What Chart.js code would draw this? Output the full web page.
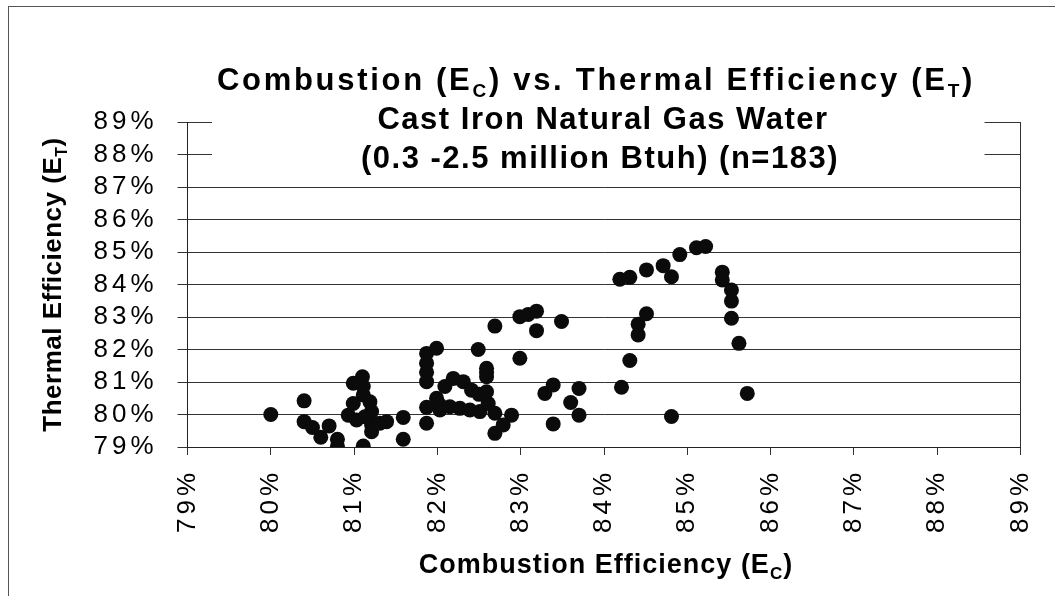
<!DOCTYPE html>
<html><head><meta charset="utf-8">
<script src="https://cdn.jsdelivr.net/npm/chart.js@4.4.1/dist/chart.umd.min.js"></script>
<style>html,body{margin:0;padding:0;background:#fff;}canvas{display:block;}</style>
</head><body>
<canvas id="c" width="1055" height="596"></canvas>
<script>
// ---- data (percent) ----
const combustionEff = [
  80.00, 80.40, 80.40, 80.50, 80.60, 80.70, 80.80, 80.80, 80.93, 80.99,
  81.10, 81.11, 81.11, 80.99, 81.19, 81.21, 81.03, 81.13, 81.21, 81.21,
  81.31, 81.39, 81.11, 81.59, 81.59,
  81.87, 81.99, 81.87, 81.87, 81.87, 81.87, 81.87, 81.99, 82.03, 82.03,
  82.09, 82.19, 82.31, 82.41, 82.50, 82.15, 82.27, 82.39, 82.51, 82.61,
  82.69, 82.89, 82.79, 82.69, 82.49, 82.59, 82.59, 82.59, 82.59,
  82.69, 82.99, 83.09, 83.19, 83.19, 83.49, 82.99, 83.39, 83.29, 83.70,
  83.60, 83.70, 83.39,
  84.21, 84.31, 84.41, 84.41, 84.51, 84.81, 84.19, 84.31, 84.51, 84.71,
  84.81, 84.91, 85.11, 85.22, 85.42, 85.42, 85.53, 85.53, 85.53, 85.62, 85.72
];
const thermalEff = [
  80.00, 80.42, 79.78, 79.60, 79.30, 79.65, 79.24, 79.02, 79.98, 80.96,
  81.16, 80.86, 80.60, 80.34, 80.39, 80.09, 79.83, 79.93, 79.68, 79.47,
  79.73, 79.78, 79.03, 79.91, 79.24,
  81.88, 82.04, 81.58, 81.30, 81.01, 80.22, 79.73, 80.50, 80.29, 80.14,
  80.86, 81.11, 81.01, 80.75, 80.62, 80.24, 80.19, 80.14, 80.09, 80.34,
  80.04, 79.98, 79.68, 79.42, 82.00, 81.42, 81.30, 81.16, 80.70,
  82.72, 83.01, 83.08, 83.18, 82.58, 82.86, 81.73, 80.91, 80.65, 80.80,
  80.37, 79.98, 79.71,
  80.84, 81.66, 82.45, 82.78, 83.10, 79.94, 84.16, 84.22, 84.45, 84.58,
  84.24, 84.92, 85.13, 85.17, 84.38, 84.14, 83.83, 83.49, 82.96, 82.19, 80.65
];
const axisMin = 79, axisMax = 89, axisStep = 1;
const tickSuffix = '%';
const titleLine1 = [{t:'Combustion (E'},{t:'C',sub:true},{t:') vs. Thermal Efficiency (E'},{t:'T',sub:true},{t:')'}];
const titleLine2 = [{t:'Cast Iron Natural Gas Water'}];
const titleLine3 = [{t:'(0.3 -2.5 million Btuh) (n=183)'}];
const xTitle = [{t:'Combustion Efficiency (E'},{t:'C',sub:true},{t:')'}];
const yTitle = [{t:'Thermal Efficiency (E'},{t:'T',sub:true},{t:')'}];

const FAM = '"Liberation Sans", Arial, Helvetica, sans-serif';

function drawRich(ctx, segs, x, y, size, spacing) {
  ctx.letterSpacing = spacing + 'px';
  let total = 0;
  const fonts = segs.map(s => 'bold ' + (s.sub ? Math.round(size * 0.62) : size) + 'px ' + FAM);
  const widths = segs.map((s, i) => { ctx.font = fonts[i]; const w = ctx.measureText(s.t).width; total += w; return w; });
  let cx = x - total / 2;
  ctx.textAlign = 'left';
  ctx.textBaseline = 'alphabetic';
  ctx.fillStyle = '#000';
  segs.forEach((s, i) => {
    ctx.font = fonts[i];
    ctx.fillText(s.t, cx, y + (s.sub ? size * 0.22 : 0));
    cx += widths[i];
  });
}

const spacingPlugin = {
  id: 'spacing',
  beforeUpdate(c) { c.ctx.letterSpacing = '4px'; },
  beforeDraw(c) { c.ctx.letterSpacing = '4px'; }
};

const decorPlugin = {
  id: 'decor',
  beforeDatasetsDraw(c) {
    const ctx = c.ctx, a = c.chartArea;
    ctx.save();
    ctx.fillStyle = '#fff';
    ctx.fillRect(a.left + 24.5, 92, (a.right - 36) - (a.left + 24.5), 82);
    drawRich(ctx, titleLine1, 596, 90, 31, 2.7);
    drawRich(ctx, titleLine2, 603, 129, 31, 1.5);
    drawRich(ctx, titleLine3, 600, 168, 31, 1.5);
    ctx.restore();
  },
  afterDraw(c) {
    const ctx = c.ctx, a = c.chartArea;
    ctx.save();
    drawRich(ctx, xTitle, (a.left + a.right) / 2 + 2, 573, 27, 1);
    ctx.translate(61, (a.top + a.bottom) / 2);
    ctx.rotate(-Math.PI / 2);
    drawRich(ctx, yTitle, 0, 0, 26, 0.5);
    ctx.restore();
    ctx.save();
    ctx.letterSpacing = '0px';
    ctx.strokeStyle = '#555';
    ctx.lineWidth = 1;
    ctx.strokeRect(8.5, 6.5, 1200, 700);
    ctx.restore();
  }
};

const tickFont = { family: FAM, size: 26, weight: 'normal' };

new Chart(document.getElementById('c'), {
  type: 'scatter',
  data: {
    datasets: [{
      data: combustionEff.map((x, i) => ({ x: x, y: thermalEff[i] })),
      backgroundColor: '#0b0b0b',
      borderColor: '#0b0b0b',
      borderWidth: 0,
      pointRadius: 7.5,
      pointHoverRadius: 7.5
    }]
  },
  options: {
    responsive: false,
    animation: false,
    events: [],
    layout: { padding: { left: 8, top: 122, right: 34.5, bottom: 0 } },
    plugins: { legend: { display: false }, title: { display: false }, tooltip: { enabled: false } },
    scales: {
      x: {
        type: 'linear', min: axisMin, max: axisMax,
        afterFit(s) { s.height = 149; s.paddingLeft = 0; s.paddingRight = 0; },
        ticks: {
          stepSize: axisStep, autoSkip: false, minRotation: 90, maxRotation: 90,
          padding: 14, color: '#000', font: tickFont,
          callback: v => v + tickSuffix
        },
        grid: {
          color: ctx => (ctx.tick && ctx.tick.value === axisMax) ? '#333' : 'rgba(0,0,0,0)',
          tickColor: '#333', tickLength: 8, lineWidth: 1
        },
        border: { display: true, color: '#222', width: 1 }
      },
      y: {
        type: 'linear', min: axisMin, max: axisMax,
        afterFit(s) { s.width = 179.5; s.paddingTop = 0; s.paddingBottom = 0; },
        ticks: {
          stepSize: axisStep, autoSkip: false, padding: 20, color: '#000', font: tickFont,
          callback: v => v + tickSuffix
        },
        grid: { color: '#333', tickColor: '#333', tickLength: 10, lineWidth: 1 },
        border: { display: true, color: '#222', width: 1 }
      }
    }
  },
  plugins: [spacingPlugin, decorPlugin]
});
</script>
</body></html>
